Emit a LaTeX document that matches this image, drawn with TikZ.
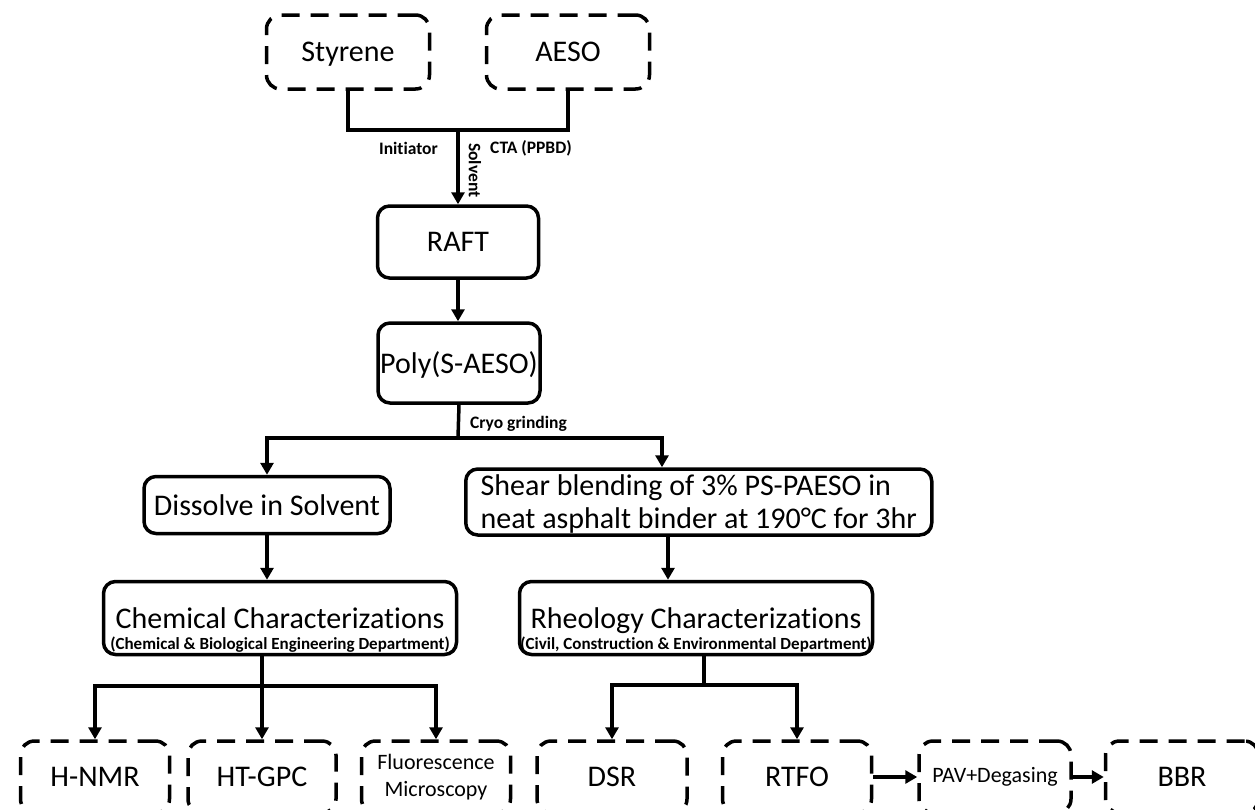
\documentclass[tikz,border=0pt]{standalone}
\usepackage{fontspec}
\setmainfont{Carlito}[Ligatures={NoCommon}]
\usetikzlibrary{arrows.meta}
\newcommand{\deptfont}{\bfseries\fontsize{17}{20}\selectfont}

\begin{document}
\begin{tikzpicture}[x=1pt,y=-1pt,
  solidbox/.style={draw, line width=3.5pt, rounded corners=12pt, align=center, inner sep=0pt, font=\fontsize{30}{33}\selectfont},
  dashbox/.style={draw, line width=3.5pt, dash pattern=on 18pt off 11pt, rounded corners=14pt, align=center, inner sep=0pt, font=\fontsize{30}{33}\selectfont},
  small/.style={font=\fontsize{22}{27}\selectfont},
  link/.style={line width=3.5pt},
  arr/.style={line width=3.5pt, -{Triangle[length=12pt,width=13pt]}},
  lbl/.style={font=\bfseries\fontsize{17.5}{20}\selectfont, inner sep=1pt}]
\useasboundingbox (0,0) rectangle (1255,809);

% monomers
\node[dashbox, text depth=0pt, minimum width=163pt, minimum height=74pt] (sty) at (348,52) {Styrene};
\node[dashbox, minimum width=163pt, minimum height=74pt] (aeso) at (568,52) {AESO};

% synthesis
\node[solidbox, minimum width=161pt, minimum height=72pt] (raft) at (458,242) {RAFT};
\node[solidbox, text depth=0pt, minimum width=162pt, minimum height=80pt] (poly) at (459,363) {Poly(S-AESO)};

\node[solidbox, minimum width=246pt, minimum height=57pt] (dis) at (267,505) {Dissolve in Solvent};
\node[solidbox, align=left, anchor=west, text depth=0pt, minimum width=466pt, minimum height=66pt, inner xsep=10pt] (shear) at (464,502) {Shear blending of 3\% PS-PAESO in\\neat asphalt binder at 190°C for 3hr};

\node[solidbox, minimum width=353pt, minimum height=73pt] (chem) at (280,618)
  {\rule{0pt}{44pt}Chemical Characterizations\\[-12pt]{\deptfont (Chemical \& Biological Engineering Department)}};
\node[solidbox, minimum width=353pt, minimum height=73pt] (rheo) at (696,618)
  {\rule{0pt}{44pt}Rheology Characterizations\\[-12pt]{\deptfont (Civil, Construction \& Environmental Department)}};

% tests
\node[dashbox, minimum width=149pt, minimum height=72pt] (nmr) at (95,777) {H-NMR};
\node[dashbox, minimum width=148pt, minimum height=72pt] (gpc) at (262,777) {HT-GPC};
\node[dashbox, small, minimum width=149pt, minimum height=72pt] (flu) at (436,777) {Fluorescence\\Microscopy};
\node[dashbox, minimum width=150pt, minimum height=72pt] (dsr) at (612,777) {DSR};
\node[dashbox, minimum width=149pt, minimum height=72pt] (rtfo) at (797,777) {RTFO};
\node[dashbox, small, minimum width=152pt, minimum height=72pt] (pav) at (995,777) {PAV+Degasing};
\node[dashbox, minimum width=153pt, minimum height=72pt] (bbr) at (1182,777) {BBR};

% labels
\node[lbl, anchor=east] (ini) at (439,148) {Initiator};
\node[lbl, anchor=west] (cta) at (489,148) {CTA (PPBD)};
\node[lbl, rotate=-90, anchor=west] (solv) at (475,142) {Solvent};
\node[lbl, anchor=west] (cryo) at (469,424) {Cryo grinding};

% junctions
\coordinate (jtop) at (458,130);
\coordinate (jmid) at (458,438);
\coordinate (jright) at (662,438);
\coordinate (sdrop) at (668,535);
\coordinate (jchem) at (262,686);
\coordinate (jrheo) at (704,685);

\draw[link] (sty.south) |- (jtop) -| (aeso.south);
\draw[arr] (jtop) -- (raft.north);
\draw[arr] (raft.south) -- (raft.south |- poly.north);

\draw[link] (poly.south) -- (jmid);
\draw[arr] (jmid) -| (dis.north);
\draw[arr] (jmid) -- (jright) -- (jright |- shear.north);

\draw[arr] (dis.south) -- (dis.south |- chem.north);
\draw[arr] (sdrop) -- (sdrop |- rheo.north);

\draw[link] (jchem |- chem.south) -- (jchem);
\draw[arr] (jchem) -| (nmr.north);
\draw[arr] (jchem) -- (gpc.north);
\draw[arr] (jchem) -| (flu.north);

\draw[link] (jrheo |- rheo.south) -- (jrheo);
\draw[arr] (jrheo) -| (dsr.north);
\draw[arr] (jrheo) -| (rtfo.north);

\draw[arr] (rtfo.east) -- (pav.west);
\draw[arr] (pav.east) -- (bbr.west);
\end{tikzpicture}
\end{document}
